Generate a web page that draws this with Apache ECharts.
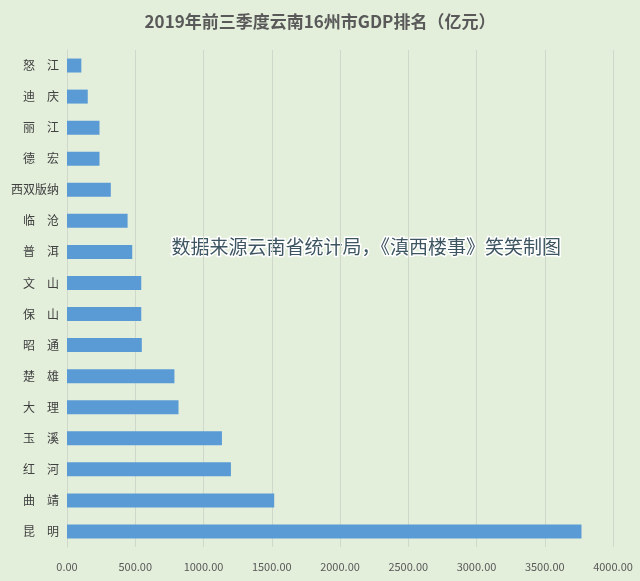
<!DOCTYPE html>
<html><head><meta charset="utf-8">
<script src="https://cdn.jsdelivr.net/npm/echarts@6/dist/echarts.min.js"></script>
<style>html,body{margin:0;padding:0;background:#e3eedb}#c{width:640px;height:581px}</style>
</head><body><div id="c"></div>
<script>
const categories = ['昆　明','曲　靖','红　河','玉　溪','大　理','楚　雄','昭　通','保　山','文　山','普　洱','临　沧','西双版纳','德　宏','丽　江','迪　庆','怒　江'];
const values = [3769,1518,1201,1135,817,787,548,544,544,478,444,321,238,238,152,105];
const chart = echarts.init(document.getElementById('c'));
chart.setOption({
  backgroundColor:'#e3eedb',
  title:{text:'2019年前三季度云南16州市GDP排名（亿元）',left:'center',top:8,
    textStyle:{fontFamily:'Noto Sans CJK SC',fontSize:17,fontWeight:'bold',color:'#595959'}},
  grid:{left:67,right:27,top:50,bottom:34},
  xAxis:{type:'value',min:0,max:4000,interval:500,
    axisLabel:{formatter:v=>v.toFixed(2),color:'#595959',fontSize:11,fontFamily:'Noto Sans CJK SC',margin:14},
    splitLine:{lineStyle:{color:'#cfd8cb'}},axisLine:{show:false},axisTick:{show:false}},
  yAxis:{type:'category',data:categories,
    axisLabel:{color:'#404040',fontSize:12,fontFamily:'Noto Sans CJK SC',margin:8},
    axisLine:{lineStyle:{color:'#cfd8cb'}},axisTick:{show:false}},
  series:[{type:'bar',data:values,barWidth:'45%',itemStyle:{color:'#5b9bd5'}}],
  graphic:[{type:'text',left:170,top:236,style:{text:'数据来源云南省统计局，《滇西楼事》笑笑制图',
    fontSize:19,fontFamily:'Noto Sans CJK SC',fill:'#3d5560',stroke:'#ffffff',lineWidth:3}}]
});
</script></body></html>
